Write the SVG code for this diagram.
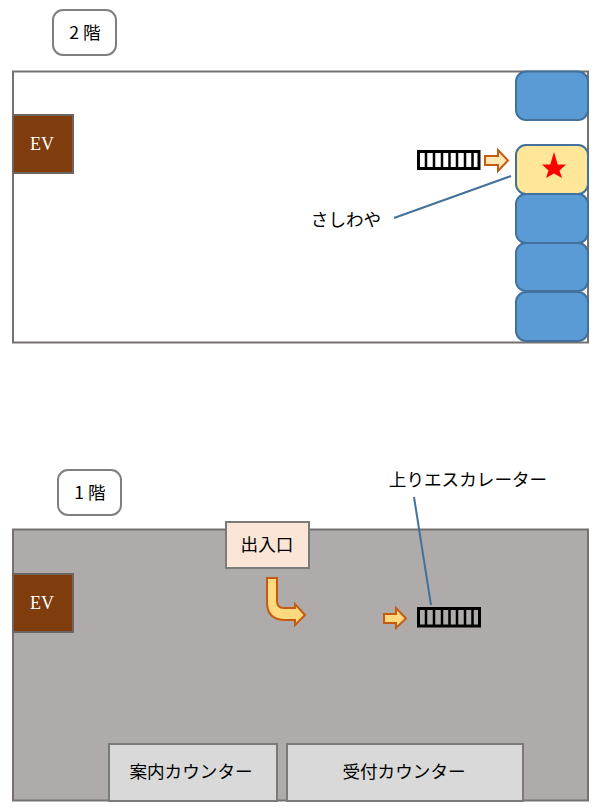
<svg xmlns="http://www.w3.org/2000/svg" width="600" height="811" viewBox="0 0 600 811">
<style>
text{font-family:"Noto Sans CJK JP","Liberation Sans",sans-serif;font-size:17.6px;fill:#000;text-anchor:middle;font-weight:400}
.ev{fill:#7f3c0c;stroke:#6f6560;stroke-width:2}
.evt{font-family:"Liberation Serif",serif;fill:#fff;font-size:18px}
.lab{fill:#fff;stroke:#7f7f7f;stroke-width:2}
.blue{fill:#5b9bd5;stroke:#41719c;stroke-width:2}
.gy{fill:#d9d9d9;stroke:#7a7a7a;stroke-width:2}
.arr{fill:#ffd97f;stroke:#c55a11;stroke-width:2;stroke-linejoin:miter}
.ln{stroke:#41719c;stroke-width:2;fill:none}
.esc{fill:none;stroke:#000;stroke-width:3}
.bar{stroke:#000;stroke-width:2.500}
</style>
<defs>
<g id="bars">
<path class="bar" d="M426 0v17M434 0v17M442 0v17M449.500 0v17M457 0v17M465 0v17M472.500 0v17"/>
</g>
</defs>
<g id="floor2"><rect x="13" y="71.500" width="575" height="271" fill="#fff" stroke="#767171" stroke-width="2"/></g>
<g id="floor1"><rect x="13" y="529.500" width="575" height="271" fill="#afabab" stroke="#767171" stroke-width="2"/></g>
<g id="label-2f"><rect class="lab" x="53" y="10" width="63" height="45" rx="10"/><text x="85" y="39">2 階</text></g>
<g id="label-1f"><rect class="lab" x="58" y="470" width="63" height="45" rx="10"/><text x="90" y="499">1 階</text></g>
<g id="ev2"><rect class="ev" x="13" y="115" width="60" height="58"/><text class="evt" x="42" y="150">EV</text></g>
<g id="ev1"><rect class="ev" x="13" y="574" width="60" height="58"/><text class="evt" x="42" y="609">EV</text></g>
<g id="shop-a"><rect class="blue" x="516" y="71.500" width="72" height="48.500" rx="10"/></g>
<g id="shop-star"><rect x="516" y="145" width="72" height="49" rx="10" fill="#ffe699" stroke="#41719c" stroke-width="2"/><polygon points="554,152 557.700,164.500 566,164.500 559.500,170.500 562,178 554,173.500 546,178 548.500,170.500 542,164.500 550.300,164.500" fill="#f00"/></g>
<g id="shop-c"><rect class="blue" x="516" y="194" width="72" height="49" rx="10"/></g>
<g id="shop-d"><rect class="blue" x="516" y="243" width="72" height="48" rx="10"/></g>
<g id="shop-e"><rect class="blue" x="516" y="292" width="72" height="49" rx="10"/></g>
<g id="escalator2"><rect class="esc" x="418.500" y="151.500" width="60.500" height="17"/><use href="#bars" transform="translate(0,151.500)"/></g>
<g id="escalator1"><rect class="esc" x="418.500" y="608.500" width="61" height="17.500"/><use href="#bars" transform="translate(0,608.500)"/></g>
<g id="connectors">
<line class="ln" x1="394" y1="218" x2="511" y2="176"/>
<line class="ln" x1="414" y1="497" x2="431" y2="605"/>
<polygon class="arr" points="485,156 498,156 498,150 508,160.500 498,171 498,165 485,165" fill-opacity=".6"/>
<polygon class="arr" points="384,614 396,614 396,608 406,618.500 396,628 396,623 384,623"/>
<path class="arr" d="M267 578H277V601Q277 608 284 608H295V604L305 615L295 625V620H285Q267 620 267 602Z"/>
</g>
<g id="entrance"><rect x="226" y="522" width="83" height="46" fill="#fbe5d6" stroke="#7a7a7a" stroke-width="2"/><text x="267" y="551">出入口</text></g>
<g id="counter-info"><rect class="gy" x="109" y="744" width="168" height="57"/><text x="191" y="778">案内カウンター</text></g>
<g id="counter-recv"><rect class="gy" x="287" y="744" width="236" height="57"/><text x="404" y="778">受付カウンター</text></g>
<g id="label-sashiwaya"><text x="346" y="226">さしわや</text></g>
<g id="label-escalator"><text x="468" y="486">上りエスカレーター</text></g>
</svg>
